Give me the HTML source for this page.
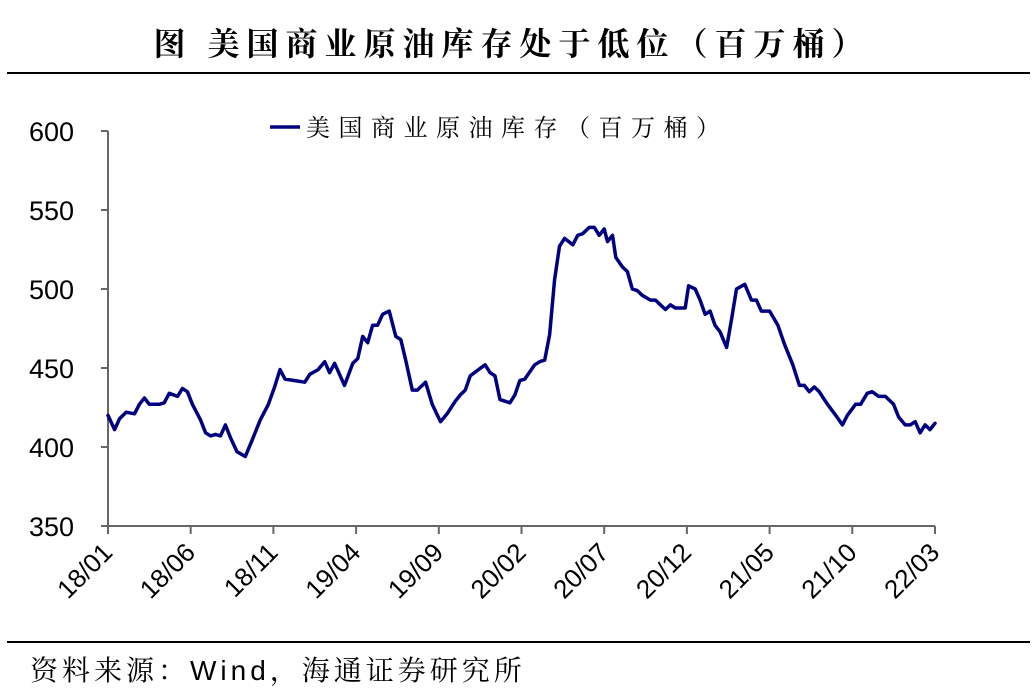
<!DOCTYPE html>
<html><head><meta charset="utf-8"><style>
body{margin:0;background:#fff;width:1034px;height:691px;overflow:hidden}
svg{display:block}
</style></head><body>
<svg width="1034" height="691" viewBox="0 0 1034 691">
<text x="512" y="55" text-anchor="middle" font-family="'Liberation Serif','Noto Serif CJK SC',serif" font-size="32" font-weight="bold" letter-spacing="7" fill="#000">图  美国商业原油库存处于低位（百万桶）</text>
<line x1="7" y1="73" x2="1030" y2="73" stroke="#000" stroke-width="2"/>
<g id="axes"></g>
<g id="plot"></g>
<line x1="270" y1="127" x2="300" y2="127" stroke="#000080" stroke-width="3.5"/>
<text x="306" y="136" font-family="'Liberation Serif','Noto Serif CJK SC',serif" font-size="24" letter-spacing="8.5" fill="#000">美国商业原油库存（百万桶）</text>
<line x1="7" y1="642" x2="1030" y2="642" stroke="#000" stroke-width="2"/>
<text x="30" y="680" font-family="'Liberation Sans','Noto Serif CJK SC',serif" font-size="28" letter-spacing="4" fill="#000">资料来源：Wind，海通证券研究所</text>
</svg>
<script>
const yTicks=[350,400,450,500,550,600];
const xTickLabels=["18/01","18/06","18/11","19/04","19/09","20/02","20/07","20/12","21/05","21/10","22/03"];
const xTickMonths=[0,5,10,15,20,25,30,35,40,45,50];
const months=[0,0.4,0.7,1.1,1.6,1.9,2.2,2.5,2.8,3.1,3.4,3.7,4.2,4.5,4.8,5.1,5.6,5.9,6.2,6.5,6.8,7.1,7.4,7.8,8.3,8.7,9.2,9.7,10.1,10.4,10.7,11.3,11.9,12.2,12.7,13.1,13.4,13.7,14.3,14.8,15.1,15.4,15.7,16.0,16.3,16.6,17.0,17.4,17.7,18.0,18.4,18.7,19.2,19.6,20.1,20.5,21.0,21.3,21.6,21.9,22.4,22.8,23.1,23.4,23.7,24.0,24.3,24.6,24.9,25.2,25.8,26.1,26.4,26.7,27.0,27.3,27.6,28.1,28.4,28.7,29.1,29.4,29.7,30.0,30.2,30.5,30.7,31.1,31.4,31.7,32.0,32.3,32.8,33.1,33.4,33.7,34.0,34.3,34.6,34.9,35.1,35.5,35.8,36.1,36.4,36.7,37.0,37.4,37.7,38.0,38.5,38.9,39.2,39.5,40.0,40.5,40.9,41.4,41.8,42.1,42.4,42.7,43.0,43.5,44.0,44.4,44.7,45.2,45.5,45.9,46.2,46.6,47.0,47.5,47.8,48.2,48.5,48.8,49.1,49.4,49.7,50.0];
const stocks=[420,411,418,422,421,427,431,427,427,427,428,434,432,437,435,427,417,409,407,408,407,414,406,397,394,404,417,427,439,449,443,442,441,446,449,454,447,453,439,453,456,470,466,477,477,484,486,470,468,455,436,436,441,427,416,421,429,433,436,445,449,452,447,445,430,429,428,433,442,443,452,454,455,471,506,527,532,528,534,535,539,539,534,538,530,534,520,514,511,500,499,496,493,493,490,487,490,488,488,488,502,500,493,484,486,477,473,463,481,500,503,493,493,486,486,477,465,452,439,439,435,438,435,427,420,414,420,427,427,434,435,432,432,427,419,414,414,416,409,414,411,415];
const NS='http://www.w3.org/2000/svg';
const X0=108,X1=935,Y0=526,Y1=131;
const xs=m=>X0+(m-0)/(50-0)*(X1-X0);
const ys=v=>Y0-(v-350)/(600-350)*(Y0-Y1);
function mk(tag,attrs,parent){const e=document.createElementNS(NS,tag);for(const k in attrs)e.setAttribute(k,attrs[k]);parent.appendChild(e);return e;}
const axes=document.getElementById('axes');
const plot=document.getElementById('plot');
const ya=mk('line',{x1:X0,y1:Y1,x2:X0,y2:Y0,stroke:'#666','stroke-width':2},axes);


const xa=mk('line',{x1:X0,y1:Y0,x2:X1,y2:Y0,stroke:'#666','stroke-width':2},axes);


yTicks.forEach(v=>{
  const t=mk('line',{x1:X0-7,y1:ys(v),x2:X0,y2:ys(v),stroke:'#666','stroke-width':2},axes);
  
  
  const l=mk('text',{x:74,y:ys(v)+10,'text-anchor':'end','font-family':'Liberation Sans, sans-serif','font-size':27,fill:'#000'},axes);
  l.textContent=v;
  
  
});
xTickMonths.forEach((m,i)=>{
  const x=xs(m);
  const t=mk('line',{x1:x,y1:Y0,x2:x,y2:Y0+8,stroke:'#666','stroke-width':2},axes);
  
  
  const ax=x+6,ay=Y0+28;
  const l=mk('text',{x:ax,y:ay,'text-anchor':'end','font-family':'Liberation Sans, sans-serif','font-size':26,fill:'#000',transform:`rotate(-45 ${ax} ${ay})`},axes);
  l.textContent=xTickLabels[i];
  
  
});
const pts=months.map((m,i)=>xs(m).toFixed(1)+','+ys(stocks[i]).toFixed(1)).join(' ');
const line=mk('polyline',{points:pts,fill:'none',stroke:'#000080','stroke-width':3.5,'stroke-linejoin':'round','stroke-linecap':'round'},plot);


</script>
</body></html>
